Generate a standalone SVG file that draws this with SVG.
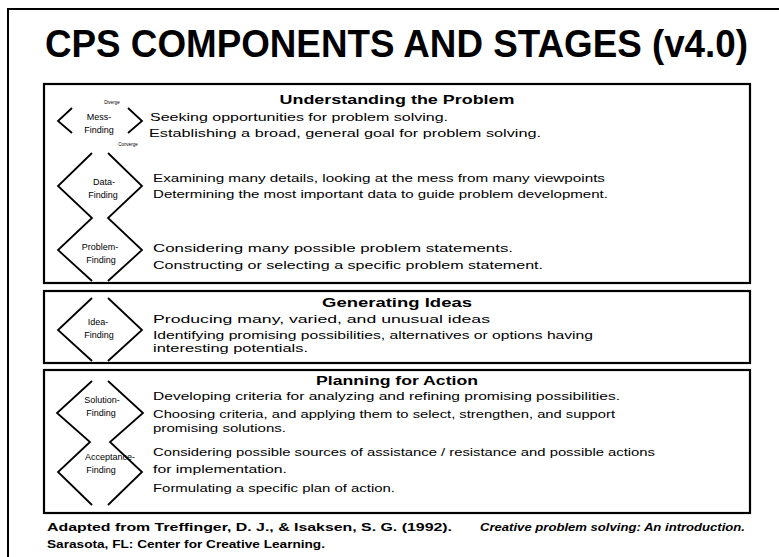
<svg xmlns="http://www.w3.org/2000/svg" width="779" height="557" viewBox="0 0 779 557">
<style>
.frame{fill:none;stroke:#000;stroke-width:2}
.box{fill:none;stroke:#000;stroke-width:2.2}
.zig{fill:none;stroke:#000;stroke-width:1.8;stroke-linejoin:miter}
.title{font-family:"Liberation Sans",Arial,sans-serif;font-weight:bold;font-size:38px;fill:#000}
.head{font-family:"Liberation Sans",Arial,sans-serif;font-weight:bold;font-size:13.5px;fill:#000;text-anchor:middle}
.body{font-family:"Liberation Sans",Arial,sans-serif;font-size:11.5px;fill:#000}
.lab{font-family:"Liberation Sans",Arial,sans-serif;font-size:9px;fill:#000;text-anchor:middle}
.tiny{font-family:"Liberation Sans",Arial,sans-serif;font-size:4.5px;fill:#000;text-anchor:middle}
.foot{font-family:"Liberation Sans",Arial,sans-serif;font-size:11.5px;font-weight:600;fill:#000}
</style>
<rect width="779" height="557" fill="#fff"/>
<path class="frame" d="M8,557 V9 H779"/>
<text class="title" x="45" y="57" textLength="703" lengthAdjust="spacingAndGlyphs">CPS COMPONENTS AND STAGES (v4.0)</text>

<g id="understanding">
<rect class="box" x="44" y="84" width="706" height="199"/>
<text class="head" x="397" y="104" textLength="235" lengthAdjust="spacingAndGlyphs">Understanding the Problem</text>
</g>
<g id="mess-finding">
<text class="tiny" x="112" y="104">Diverge</text>
<text class="lab" x="99" y="120">Mess-</text>
<text class="lab" x="99" y="133">Finding</text>
<text class="tiny" x="128" y="146">Converge</text>
<text class="body" x="150" y="121" textLength="298" lengthAdjust="spacingAndGlyphs">Seeking opportunities for problem solving.</text>
<text class="body" x="149" y="137" textLength="392" lengthAdjust="spacingAndGlyphs">Establishing a broad, general goal for problem solving.</text>
</g>
<g id="data-finding">
<text class="lab" x="104" y="185">Data-</text>
<text class="lab" x="103" y="198">Finding</text>
<text class="body" x="153" y="182" textLength="452" lengthAdjust="spacingAndGlyphs">Examining many details, looking at the mess from many viewpoints</text>
<text class="body" x="153" y="198" textLength="455" lengthAdjust="spacingAndGlyphs">Determining the most important data to guide problem development.</text>
</g>
<g id="problem-finding">
<text class="lab" x="100" y="250">Problem-</text>
<text class="lab" x="101" y="263">Finding</text>
<text class="body" x="153" y="252" textLength="360" lengthAdjust="spacingAndGlyphs">Considering many possible problem statements.</text>
<text class="body" x="153" y="269" textLength="390" lengthAdjust="spacingAndGlyphs">Constructing or selecting a specific problem statement.</text>
</g>

<g id="generating">
<rect class="box" x="44" y="291" width="706" height="72"/>
<text class="head" x="397" y="307" textLength="150" lengthAdjust="spacingAndGlyphs">Generating Ideas</text>
</g>
<g id="idea-finding">
<text class="lab" x="98" y="325">Idea-</text>
<text class="lab" x="99" y="338">Finding</text>
<text class="body" x="153" y="323" textLength="337" lengthAdjust="spacingAndGlyphs">Producing many, varied, and unusual ideas</text>
<text class="body" x="153" y="339" textLength="440" lengthAdjust="spacingAndGlyphs">Identifying promising possibilities, alternatives or options having</text>
<text class="body" x="153" y="352" textLength="155" lengthAdjust="spacingAndGlyphs">interesting potentials.</text>
</g>

<g id="planning">
<rect class="box" x="44" y="370" width="706" height="143"/>
<text class="head" x="397" y="385" textLength="162" lengthAdjust="spacingAndGlyphs">Planning for Action</text>
</g>
<g id="solution-finding">
<text class="lab" x="102" y="403">Solution-</text>
<text class="lab" x="101" y="416">Finding</text>
<text class="body" x="153" y="400" textLength="467" lengthAdjust="spacingAndGlyphs">Developing criteria for analyzing and refining promising possibilities.</text>
<text class="body" x="153" y="418" textLength="462" lengthAdjust="spacingAndGlyphs">Choosing criteria, and applying them to select, strengthen, and support</text>
<text class="body" x="153" y="432" textLength="133" lengthAdjust="spacingAndGlyphs">promising solutions.</text>
</g>
<g id="acceptance-finding">
<text class="lab" x="110" y="460">Acceptance-</text>
<text class="lab" x="101" y="473">Finding</text>
<text class="body" x="153" y="456" textLength="502" lengthAdjust="spacingAndGlyphs">Considering possible sources of assistance / resistance and possible actions</text>
<text class="body" x="153" y="473" textLength="134" lengthAdjust="spacingAndGlyphs">for implementation.</text>
<text class="body" x="153" y="492" textLength="242" lengthAdjust="spacingAndGlyphs">Formulating a specific plan of action.</text>
</g>

<g id="connectors">
<polyline class="zig" points="128,108 142,121 128,133"/>
<polyline class="zig" points="72,108 58,121 72,133"/>
<polyline class="zig" points="108,153 142,186 108,218 142,250 108,281"/>
<polyline class="zig" points="92,153 58,186 92,218 58,250 92,281"/>
<polyline class="zig" points="108,298 142,330 108,361"/>
<polyline class="zig" points="92,298 58,330 92,361"/>
<polyline class="zig" points="108,381 143,413 110,442 142,472 108,505"/>
<polyline class="zig" points="92,381 57,413 90,442 58,472 92,505"/>
</g>

<g id="footer">
<text class="foot" x="47" y="531" textLength="405" lengthAdjust="spacingAndGlyphs">Adapted from Treffinger, D. J., &amp; Isaksen, S. G. (1992).</text>
<text class="foot" x="480" y="531" font-style="italic" textLength="265" lengthAdjust="spacingAndGlyphs">Creative problem solving: An introduction.</text>
<text class="foot" x="47" y="548" textLength="278" lengthAdjust="spacingAndGlyphs">Sarasota, FL: Center for Creative Learning.</text>
</g>
</svg>
